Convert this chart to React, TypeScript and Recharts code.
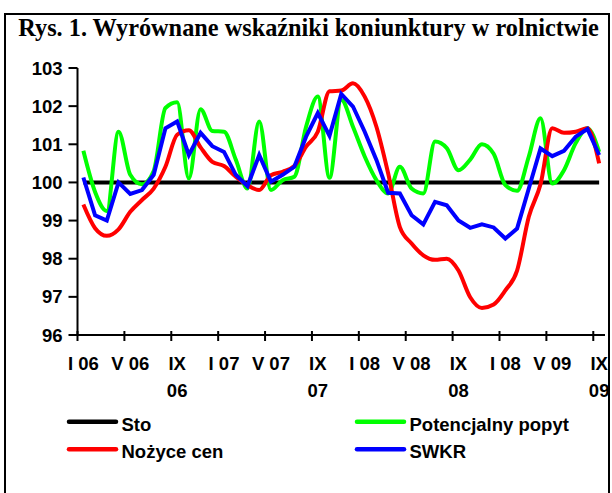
import { LineChart, Line, XAxis, YAxis } from "recharts";

// miesiące I 2006 - IX 2009
const months = [
  "I 06", "II 06", "III 06", "IV 06", "V 06", "VI 06", "VII 06", "VIII 06", "IX 06", "X 06", "XI 06", "XII 06",
  "I 07", "II 07", "III 07", "IV 07", "V 07", "VI 07", "VII 07", "VIII 07", "IX 07", "X 07", "XI 07", "XII 07",
  "I 08", "II 08", "III 08", "IV 08", "V 08", "VI 08", "VII 08", "VIII 08", "IX 08", "X 08", "XI 08", "XII 08",
  "I 09", "II 09", "III 09", "IV 09", "V 09", "VI 09", "VII 09", "VIII 09", "IX 09",
];

// labels as printed on the original axis (the "I 08" for Jan 09 is kept)
const tickLabels = ["I 06", "V 06", "IX 06", "I 07", "V 07", "IX 07", "I 08", "V 08", "IX 08", "I 08", "V 09", "IX 09"];

const sto = [
  100, 100, 100, 100, 100, 100, 100, 100, 100, 100, 100, 100,
  100, 100, 100, 100, 100, 100, 100, 100, 100, 100, 100, 100,
  100, 100, 100, 100, 100, 100, 100, 100, 100, 100, 100, 100,
  100, 100, 100, 100, 100, 100, 100, 100, 100,
];

const potencjalnyPopyt = [
  100.83, 99.75, 99.25, 101.33, 100.2, 99.95, 100.3, 101.95, 102.1, 100.1, 101.92, 101.35,
  101.33, 100.6, 99.84, 101.6, 99.8, 100.06, 100.15, 101.46, 102.25, 100.12, 102.17, 101.46,
  100.68, 100.06, 99.71, 100.41, 99.84, 99.71, 101.07, 100.9, 100.32, 100.6, 101.0, 100.75,
  99.93, 99.78, 100.68, 101.68, 99.97, 100.32, 101.03, 101.42, 100.8,
];

const nozyceCen = [
  99.42, 98.8, 98.6, 98.77, 99.23, 99.54, 99.84, 100.41, 101.25, 101.37, 100.92, 100.54,
  100.43, 100.15, 99.93, 99.8, 100.19, 100.28, 100.43, 100.94, 101.33, 102.39, 102.41, 102.6,
  102.25, 101.46, 100.24, 98.83, 98.4, 98.09, 97.97, 98.0, 97.69, 96.99, 96.71, 96.8,
  97.17, 97.69, 99.1, 99.95, 101.42, 101.3, 101.33, 101.42, 100.5,
];

const swkr = [
  100.13, 99.14, 99.0, 100.0, 99.7, 99.8, 100.2, 101.42, 101.6, 100.72, 101.3, 100.95,
  100.8, 100.2, 99.9, 100.72, 100.02, 100.2, 100.41, 101.2, 101.82, 101.22, 102.32, 101.99,
  101.33, 100.59, 99.73, 99.71, 99.14, 98.9, 99.49, 99.4, 99.0, 98.81, 98.9, 98.82,
  98.53, 98.79, 99.84, 100.89, 100.69, 100.83, 101.2, 101.4, 100.72,
];

const yTicks = [96, 97, 98, 99, 100, 101, 102, 103];

const data = months.map((m, i) => ({
  idx: i,
  month: m,
  sto: sto[i],
  potencjalny: potencjalnyPopyt[i],
  nozyce: nozyceCen[i],
  swkr: swkr[i],
}));

const series = [
  { key: "sto", name: "Sto", color: "#000000", curve: "linear" },
  { key: "potencjalny", name: "Potencjalny popyt", color: "#00ff00", curve: "monotone" },
  { key: "nozyce", name: "Nożyce cen", color: "#ff0000", curve: "monotone" },
  { key: "swkr", name: "SWKR", color: "#0000ff", curve: "linear" },
] as const;

// label ticks sit on every 4th month, tick marks between categories
const labelTicks = tickLabels.map((_, k) => k * 4);
const markTicks = tickLabels.map((_, k) => k * 4 - 0.5);
const xTicks = [...markTicks, ...labelTicks].sort((a, b) => a - b);

const sans = "'Liberation Sans', Arial, sans-serif";
const serif = "'Liberation Serif', 'Times New Roman', serif";

const MonthTick = (props: any) => {
  const { x, y, payload } = props;
  const v = payload.value;
  if (!Number.isInteger(v)) {
    return <line x1={x} x2={x} y1={y - 4} y2={y + 6} stroke="#000" strokeWidth={2} />;
  }
  const label = tickLabels[v / 4];
  const parts = label.startsWith("IX") ? label.split(" ") : [label];
  return (
    <text x={x} y={y + 35} textAnchor="middle" fill="#000" fontFamily={sans} fontWeight="bold" fontSize={18.5}>
      {parts.map((t, i) => (
        <tspan key={i} x={x} dy={i === 0 ? 0 : 26.5}>
          {t}
        </tspan>
      ))}
    </text>
  );
};

const legendCols = [67, 355];
const legendRows = [421.7, 449.3];

export default function App() {
  return (
    <div style={{ position: "absolute", left: 0, top: 0, width: 612, height: 493, background: "#fff", overflow: "hidden" }}>
      <LineChart
        width={612}
        height={493}
        data={data}
        margin={{ top: 68, right: 7, left: 17.5, bottom: 98 }}
        style={{ position: "absolute", left: 0, top: 0 }}
      >
        <XAxis
          dataKey="idx"
          type="number"
          domain={[-0.5, 44.5]}
          ticks={xTicks}
          interval={0}
          height={60}
          tickSize={0}
          tickMargin={0}
          tickLine={false}
          axisLine={{ stroke: "#000", strokeWidth: 2 }}
          tick={<MonthTick />}
        />
        <YAxis
          type="number"
          domain={[96, 103]}
          ticks={yTicks}
          interval={0}
          width={60}
          tickSize={9}
          tickMargin={6}
          axisLine={{ stroke: "#000", strokeWidth: 2 }}
          tickLine={{ stroke: "#000", strokeWidth: 2 }}
          tick={{ fill: "#000", fontSize: 18.5, fontWeight: "bold", fontFamily: sans }}
        />
        {series.map((s) => (
          <Line
            key={s.key}
            dataKey={s.key}
            name={s.name}
            type={s.curve}
            stroke={s.color}
            strokeWidth={4}
            dot={false}
            activeDot={false}
            isAnimationActive={false}
          />
        ))}
      </LineChart>
      <svg width={612} height={493} style={{ position: "absolute", left: 0, top: 0, pointerEvents: "none" }}>
        <rect x={5} y={14} width={604} height={500} fill="none" stroke="#000" strokeWidth={2} />
        <text x={18.3} y={36} fontFamily={serif} fontWeight="bold" fontSize={24.3} fill="#000">
          Rys. 1. Wyrównane wskaźniki koniunktury w rolnictwie
        </text>
        {series.map((s, i) => {
          const lx = legendCols[i % 2];
          const ly = legendRows[Math.floor(i / 2)];
          return (
            <g key={s.key}>
              <line x1={lx + 2} x2={lx + 49} y1={ly} y2={ly} stroke={s.color} strokeWidth={4.5} strokeLinecap="round" />
              <text x={lx + 54.5} y={ly + 9} fontFamily={sans} fontWeight="bold" fontSize={18.5} fill="#000">
                {s.name}
              </text>
            </g>
          );
        })}
      </svg>
    </div>
  );
}
